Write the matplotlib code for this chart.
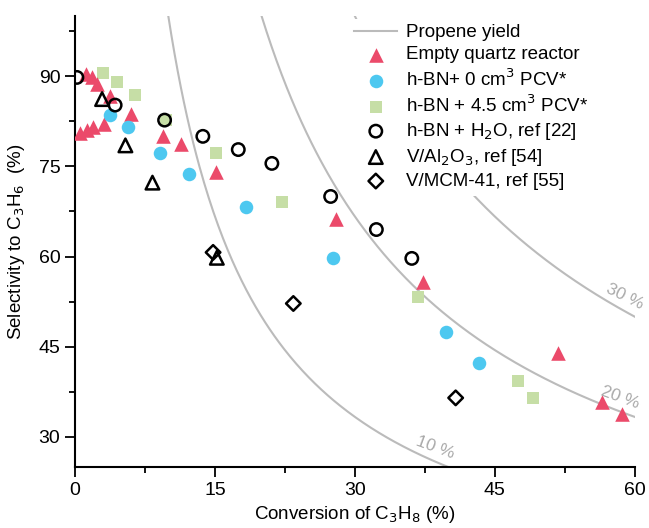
import numpy as np
import matplotlib
matplotlib.use("Agg")
import matplotlib.pyplot as plt

# conversion (%) / selectivity (%)
empty_x = [0.5, 1.3, 1.9, 3.1, 1.2, 1.8, 2.4, 3.75, 6.0, 9.4, 11.4, 15.1, 28.0, 37.3, 51.8, 56.5, 58.6]
empty_y = [80.5, 81.0, 81.5, 82.0, 90.3, 89.8, 88.7, 86.7, 83.8, 80.0, 78.7, 74.0, 66.3, 55.7, 44.0, 35.8, 33.8]

bn0_x = [3.75, 5.7, 9.1, 12.2, 18.3, 27.6, 39.8, 43.3]
bn0_y = [83.5, 81.5, 77.3, 73.7, 68.2, 59.8, 47.5, 42.3]

bn45_x = [3.0, 4.5, 6.4, 9.8, 15.1, 22.2, 36.8, 47.5, 49.1]
bn45_y = [90.5, 89.0, 86.8, 82.7, 77.2, 69.0, 53.2, 39.3, 36.5]

h2o_x = [0.2, 4.3, 9.6, 13.7, 17.5, 21.1, 27.4, 32.3, 36.1]
h2o_y = [89.8, 85.2, 82.7, 80.0, 77.8, 75.5, 70.0, 64.5, 59.7]

val_x = [2.9, 5.4, 8.3, 15.2]
val_y = [86.2, 78.5, 72.3, 59.8]

mcm_x = [14.8, 23.4, 40.8]
mcm_y = [60.7, 52.2, 36.5]

yields = [10, 20, 30]
yield_labels = ["10 %", "20 %", "30 %"]

plt.rcParams['font.family'] = ['Liberation Sans', 'DejaVu Sans']

fig = plt.figure(figsize=(6.49, 5.28), dpi=100)
ax = fig.add_axes([0.1156, 0.1155, 0.8625, 0.854])

# propene yield curves S = 100*Y/X
for i, yv in enumerate(yields):
    xs = np.linspace(yv, 60, 300)
    ax.plot(xs, 100 * yv / xs, color="#BBBBBB", lw=1.5, zorder=1,
            label="Propene yield" if i == 0 else None)

ax.scatter(empty_x, empty_y, marker="^", s=110, color="#EB4A6A", lw=0, zorder=3, label="Empty quartz reactor")
ax.scatter(bn0_x, bn0_y, marker="o", s=95, color="#4DC8F0", lw=0, zorder=3, label="h-BN+ 0 cm$^3$ PCV*")
ax.scatter(bn45_x, bn45_y, marker="s", s=85, color="#C6DEA6", lw=0, zorder=2, label="h-BN + 4.5 cm$^3$ PCV*")
ax.scatter(h2o_x, h2o_y, marker="o", s=80, facecolors="none", edgecolors="black", lw=1.8, zorder=4, label="h-BN + H$_2$O, ref [22]")
ax.scatter(val_x, val_y, marker="^", s=95, facecolors="none", edgecolors="black", lw=1.8, zorder=4, label="V/Al$_2$O$_3$, ref [54]")
ax.scatter(mcm_x, mcm_y, marker="D", s=55, facecolors="none", edgecolors="black", lw=1.8, zorder=4, label="V/MCM-41, ref [55]")

ax.text(38.6, 28.3, yield_labels[0], color="#AAAAAA", fontsize=12.5, rotation=-20, ha="center", va="center")
ax.text(58.4, 36.5, yield_labels[1], color="#AAAAAA", fontsize=12.5, rotation=-20, ha="center", va="center")
ax.text(58.9, 53.4, yield_labels[2], color="#AAAAAA", fontsize=12.5, rotation=-26, ha="center", va="center")

ax.set_xlim(0, 60)
ax.set_ylim(25, 100)
ax.set_xticks([0, 15, 30, 45, 60])
ax.set_xticks([7.5, 22.5, 37.5, 52.5], minor=True)
ax.set_yticks([30, 45, 60, 75, 90])
ax.set_yticks([37.5, 52.5, 67.5, 82.5, 97.5], minor=True)
ax.tick_params(which="major", length=7, width=1.3, labelsize=14)
ax.tick_params(which="minor", length=4, width=1.3)
for s in ["top", "right"]:
    ax.spines[s].set_visible(False)
for s in ["left", "bottom"]:
    ax.spines[s].set_linewidth(1.5)

ax.set_xlabel("Conversion of C$_3$H$_8$ (%)", fontsize=13.5, labelpad=4)
ax.set_ylabel("Selectivity to C$_3$H$_6$  (%)", fontsize=13.5, labelpad=8)

leg = ax.legend(loc="upper left", bbox_to_anchor=(0.472, 1.015), fontsize=13.5,
                frameon=True, facecolor="white", edgecolor="none", framealpha=1,
                labelspacing=0.26, handlelength=2.3, handletextpad=0.45, borderpad=0.3)
leg.set_zorder(5)

fig.savefig("out.png", dpi=100)
